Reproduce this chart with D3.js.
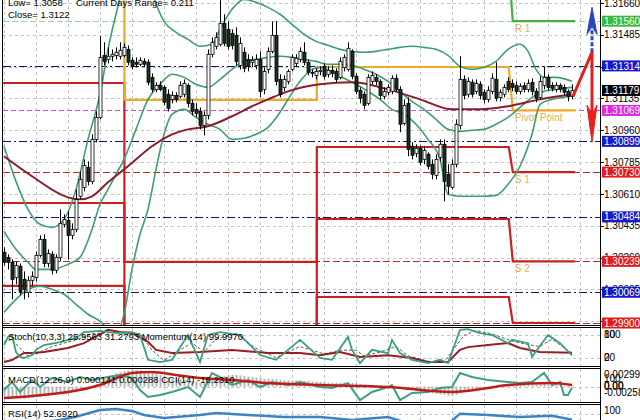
<!DOCTYPE html>
<html><head><meta charset="utf-8">
<script src="https://cdn.jsdelivr.net/npm/d3@7"></script>
<style>body{margin:0;background:#fff}svg{display:block}text{font-family:"Liberation Sans",Arial,sans-serif}</style>
</head><body><svg id="c" width="640" height="420"></svg>
<script>
// ---------- DATA ----------
// candles: [open, high, low, close], one per bar
const candles = [
[1.30289,1.30316,1.30217,1.30234],[1.30261,1.30278,1.30195,1.30234],[1.30234,1.30250,1.30030,1.30140],[1.30151,1.30239,1.30113,1.30217],
[1.30212,1.30228,1.30052,1.30074],[1.30140,1.30184,1.30030,1.30085],[1.30069,1.30157,1.30041,1.30135],[1.30135,1.30184,1.30107,1.30157],
[1.30151,1.30294,1.30129,1.30272],[1.30272,1.30382,1.30261,1.30360],[1.30360,1.30388,1.30206,1.30228],[1.30228,1.30305,1.30206,1.30283],
[1.30278,1.30294,1.30168,1.30190],[1.30190,1.30278,1.30173,1.30261],[1.30261,1.30525,1.30239,1.30448],[1.30443,1.30498,1.30426,1.30470],
[1.30465,1.30514,1.30250,1.30382],[1.30382,1.30448,1.30360,1.30415],[1.30415,1.30635,1.30399,1.30580],[1.30597,1.30734,1.30580,1.30690],
[1.30646,1.30800,1.30624,1.30767],[1.30756,1.30789,1.30657,1.30679],[1.30679,1.30938,1.30663,1.30910],[1.30910,1.31064,1.30894,1.31031],
[1.31031,1.31477,1.31020,1.31361],[1.31372,1.31444,1.31317,1.31339],[1.31350,1.31416,1.31328,1.31367],[1.31367,1.31405,1.31339,1.31378],
[1.31372,1.31416,1.31350,1.31389],[1.31367,1.31444,1.31350,1.31400],[1.31372,1.31438,1.31361,1.31416],[1.31405,1.31427,1.31317,1.31334],
[1.31345,1.31361,1.31295,1.31312],[1.31334,1.31361,1.31306,1.31323],[1.31323,1.31361,1.31312,1.31345],[1.31339,1.31356,1.31306,1.31323],
[1.31334,1.31350,1.31207,1.31224],[1.31251,1.31273,1.31169,1.31185],[1.31185,1.31224,1.31169,1.31207],[1.31207,1.31229,1.31174,1.31185],
[1.31196,1.31207,1.31097,1.31114],[1.31158,1.31185,1.31064,1.31081],[1.31130,1.31174,1.31108,1.31152],[1.31152,1.31169,1.31114,1.31130],
[1.31147,1.31229,1.31136,1.31207],[1.31158,1.31240,1.31141,1.31218],[1.31207,1.31218,1.31086,1.31108],[1.31108,1.31130,1.31042,1.31064],
[1.31075,1.31108,1.31031,1.31053],[1.31064,1.31086,1.30965,1.30987],[1.30987,1.31064,1.30932,1.31042],[1.31042,1.31405,1.31020,1.31378],
[1.31378,1.31471,1.31361,1.31444],[1.31422,1.31499,1.31405,1.31471],[1.31433,1.31697,1.31422,1.31548],[1.31548,1.31598,1.31422,1.31438],
[1.31515,1.31559,1.31405,1.31422],[1.31493,1.31515,1.31405,1.31427],[1.31482,1.31526,1.31317,1.31339],[1.31317,1.31471,1.31295,1.31438],
[1.31389,1.31416,1.31279,1.31301],[1.31350,1.31378,1.31284,1.31312],[1.31334,1.31367,1.31306,1.31345],[1.31317,1.31378,1.31295,1.31350],
[1.31350,1.31394,1.31141,1.31174],[1.31185,1.31306,1.31158,1.31284],[1.31295,1.31416,1.31273,1.31394],[1.31394,1.31559,1.31383,1.31482],
[1.31482,1.31559,1.31207,1.31229],[1.31240,1.31268,1.31141,1.31158],[1.31196,1.31262,1.31174,1.31240],[1.31229,1.31295,1.31213,1.31284],
[1.31295,1.31378,1.31284,1.31361],[1.31328,1.31378,1.31306,1.31356],[1.31350,1.31416,1.31334,1.31394],[1.31389,1.31444,1.31317,1.31334],
[1.31334,1.31350,1.31262,1.31279],[1.31279,1.31295,1.31251,1.31273],[1.31262,1.31301,1.31240,1.31284],[1.31284,1.31312,1.31262,1.31290],
[1.31312,1.31328,1.31240,1.31257],[1.31268,1.31312,1.31251,1.31290],[1.31290,1.31317,1.31251,1.31273],[1.31284,1.31301,1.31224,1.31240],
[1.31251,1.31361,1.31240,1.31339],[1.31306,1.31378,1.31284,1.31361],[1.31295,1.31444,1.31284,1.31411],[1.31394,1.31405,1.31240,1.31257],
[1.31257,1.31273,1.31158,1.31174],[1.31180,1.31196,1.31108,1.31136],[1.31158,1.31174,1.31075,1.31097],[1.31108,1.31268,1.31097,1.31251],
[1.31229,1.31284,1.31213,1.31262],[1.31251,1.31268,1.31207,1.31229],[1.31229,1.31240,1.31130,1.31152],[1.31147,1.31196,1.31130,1.31174],
[1.31169,1.31213,1.31152,1.31196],[1.31174,1.31262,1.31158,1.31246],[1.31246,1.31268,1.31174,1.31185],[1.31185,1.31202,1.30949,1.30993],
[1.30998,1.31130,1.30987,1.31097],[1.31108,1.31141,1.30817,1.30855],[1.30872,1.30894,1.30800,1.30822],[1.30833,1.30883,1.30811,1.30861],
[1.30861,1.30877,1.30767,1.30784],[1.30800,1.30872,1.30773,1.30850],[1.30828,1.30839,1.30745,1.30762],[1.30773,1.30800,1.30690,1.30718],
[1.30712,1.30828,1.30690,1.30800],[1.30811,1.30910,1.30789,1.30883],[1.30883,1.30910,1.30569,1.30679],[1.30718,1.30773,1.30608,1.30652],
[1.30646,1.30800,1.30635,1.30773],[1.30773,1.31020,1.30756,1.30993],[1.30987,1.31367,1.30965,1.31240],[1.31240,1.31262,1.31130,1.31152],
[1.31158,1.31251,1.31141,1.31229],[1.31224,1.31240,1.31141,1.31158],[1.31174,1.31240,1.31158,1.31218],[1.31213,1.31229,1.31130,1.31152],
[1.31169,1.31185,1.31108,1.31130],[1.31130,1.31202,1.31114,1.31180],[1.31174,1.31273,1.31158,1.31246],[1.31240,1.31334,1.31119,1.31136],
[1.31141,1.31185,1.31119,1.31169],[1.31158,1.31213,1.31141,1.31196],[1.31229,1.31251,1.31169,1.31185],[1.31218,1.31240,1.31174,1.31196],
[1.31207,1.31229,1.31158,1.31174],[1.31174,1.31218,1.31158,1.31202],[1.31207,1.31224,1.31169,1.31185],[1.31185,1.31240,1.31169,1.31218],
[1.31224,1.31246,1.31152,1.31174],[1.31174,1.31191,1.31114,1.31136],[1.31141,1.31257,1.31130,1.31229],[1.31207,1.31312,1.31185,1.31251],
[1.31251,1.31268,1.31180,1.31196],[1.31207,1.31224,1.31174,1.31191],[1.31185,1.31224,1.31169,1.31207],[1.31207,1.31218,1.31169,1.31185],
[1.31196,1.31213,1.31152,1.31169],[1.31174,1.31185,1.31119,1.31147],[1.31147,1.31213,1.31130,1.31179]
];
// Bollinger bands (read at sample bars)
const bbBarsU = [0,3,6,9,12,15,18,21,24,26,28,30,34,37,40,43,46,49,52,54,57,60,63,66,69,72,75,78,81,84,87,90,93,96,99,102,105,108,111,114,117,120,123,126,129,131,133,135,138,142];
const bbUpper = [1.30872,1.30679,1.30525,1.30443,1.30426,1.30470,1.30635,1.30910,1.31158,1.31405,1.31598,1.31763,1.31845,1.31708,1.31559,1.31499,1.31460,1.31422,1.31433,1.31515,1.31625,1.31680,1.31664,1.31636,1.31598,1.31543,1.31488,1.31449,1.31427,1.31405,1.31394,1.31389,1.31394,1.31405,1.31416,1.31422,1.31416,1.31405,1.31372,1.31312,1.31295,1.31306,1.31339,1.31405,1.31433,1.31394,1.31295,1.31251,1.31251,1.31229];
const bbBarsM = [0,3,6,8,12,16,19,22,24,26,28,30,33,36,39,42,45,48,51,54,57,60,63,66,69,72,75,78,81,84,87,90,93,96,99,102,105,108,111,114,117,120,123,126,129,132,135,138,142];
const bbMiddle = [1.30404,1.30305,1.30234,1.30195,1.30195,1.30223,1.30261,1.30415,1.30553,1.30635,1.30718,1.30800,1.30965,1.31130,1.31213,1.31268,1.31251,1.31213,1.31196,1.31240,1.31295,1.31339,1.31350,1.31361,1.31367,1.31361,1.31350,1.31339,1.31323,1.31323,1.31317,1.31295,1.31268,1.31229,1.31174,1.31119,1.31075,1.31020,1.30965,1.30954,1.30960,1.30965,1.30993,1.31031,1.31086,1.31141,1.31174,1.31185,1.31196];
const bbBarsL = [0,3,6,9,12,15,18,21,24,26,28,30,32,34,36,38,40,42,45,48,51,54,57,60,63,66,69,71,74,77,79,82,85,88,91,94,97,100,103,106,109,111,114,119,123,126,129,132,134,137,140,142];
const bbLower = [1.29959,1.30030,1.30085,1.30102,1.30085,1.30058,1.30003,1.29948,1.29909,1.29865,1.29843,1.29948,1.30195,1.30388,1.30525,1.30745,1.30938,1.31048,1.31075,1.31031,1.30993,1.30965,1.30910,1.30916,1.30938,1.30976,1.31059,1.31130,1.31229,1.31295,1.31306,1.31279,1.31246,1.31213,1.31174,1.31130,1.31075,1.31048,1.30993,1.30910,1.30800,1.30608,1.30597,1.30597,1.30602,1.30663,1.30762,1.30938,1.31103,1.31130,1.31141,1.31147];
// moving average (dark red)
const maBars = [0,7,16,19,22,26,31,37,41,46,51,57,62,66,71,79,87,96,104,112,119,126,134,142];
const maVals = [1.30817,1.30707,1.30591,1.30580,1.30597,1.30674,1.30762,1.30872,1.30927,1.30965,1.30982,1.31037,1.31092,1.31130,1.31174,1.31213,1.31224,1.31185,1.31130,1.31075,1.31075,1.31092,1.31130,1.31158];
// daily pivot levels (4 days)
const dayFrom = [-0.5,30.1,78.2,127.2];
const dayTo   = [30.1,78.2,126.2,142.75];
const pivotLv = [1.31800,1.31127,1.31308,1.31069];
const r1Lv    = [1.32000,1.31900,1.31850,1.31560];
const s1Lv    = [1.31220,1.30236,1.30868,1.30730];
const s2Lv    = [1.30560,1.29750,1.30472,1.30239];
const s3Lv    = [1.30104,1.29500,1.30043,1.29900];
// horizontal level lines and their axis labels
const levelPrices = [1.31560,1.31314,1.31069,1.30899,1.30730,1.30484,1.30239,1.30069,1.29900];
const levelKinds  = ["green","blue","magenta","blue","red","blue","red","blue","red"];
const bidPrice = 1.31179;
const priceTicks = [1.31660,1.31485,1.31310,1.31135,1.30960,1.30785,1.30610,1.30435,1.30260,1.30085,1.29910];
// projection arrows
const projBars = [142.25,147,147];
const projPrices = [1.31147,1.31389,1.30894];
const projUpTip = 1.31636;
// Stochastic / Momentum
const stochBars = [0,1,2,3,4,5,7,8,10,14,18,20,24,28,32,34,36,39,42,46,49,51,54,59,64,68,74,79,82,86,87,89,92,96,97,99,102,106,109,111,114,116,119,122,126,127,131,132,136,139,142];
const stochMain = [54,76,81,35,22,19,27,41,54,62,73,89,92,86,89,81,14,8,14,81,8,81,89,81,27,14,68,19,14,76,41,5,41,32,68,32,14,5,14,5,95,97,86,81,59,68,59,22,81,59,25.96];
const sigBars = [0,2,4,6,8,12,18,22,28,34,37,40,44,47,50,53,58,63,68,74,80,84,88,90,94,98,101,106,110,115,118,122,127,131,134,137,142];
const stochSig = [60,70,45,25,30,50,68,85,88,85,40,12,40,60,35,70,85,45,20,50,30,40,40,25,35,50,25,10,8,80,93,84,65,55,50,70,31.28];
const momBars = [0,2,5,7,10,16,20,26,29,32,36,38,42,49,57,66,74,79,84,89,96,102,106,111,114,116,121,126,129,134,142];
const momVals = [99.70,99.76,99.99,99.99,100.02,100.15,100.31,100.74,100.67,100.64,100.35,100.09,99.99,100.02,100.09,99.99,99.99,99.92,100.02,99.86,99.92,99.83,99.70,99.70,100.09,100.18,100.25,100.31,100.15,100.02,99.997];
// MACD / CCI
const macdMain = [
-0.0018,-0.0019,-0.0020,-0.0021,-0.0021,-0.0022,-0.0021,-0.0020,
-0.0019,-0.0018,-0.0017,-0.0016,-0.0015,-0.0013,-0.0011,-0.0009,
-0.0008,-0.0007,-0.0005,-0.0003,-0.0001,0,0.0002,0.0005,
0.0010,0.0014,0.0018,0.0021,0.0024,0.0026,0.0028,0.0029,
0.0030,0.0030,0.0029,0.0028,0.0027,0.0025,0.0023,0.0021,
0.0019,0.0017,0.0015,0.0014,0.0013,0.0012,0.0011,0.0010,
0.0009,0.0007,0.0006,0.0008,0.0011,0.0014,0.0017,0.0019,
0.0020,0.0021,0.0021,0.0020,0.0019,0.0018,0.0017,0.0016,
0.0015,0.0014,0.0014,0.0014,0.0013,0.0012,0.0011,0.0011,
0.0011,0.0011,0.0011,0.0010,0.0010,0.0009,0.0009,0.0008,
0.0008,0.0007,0.0007,0.0007,0.0007,0.0007,0.0007,0.0007,
0.0006,0.0005,0.0004,0.0003,0.0003,0.0002,0.0002,0.0001,
0.0001,0.0001,0,-0.0001,-0.0002,-0.0004,-0.0006,-0.0008,
-0.0009,-0.0010,-0.0011,-0.0012,-0.0013,-0.0014,-0.0015,-0.0016,
-0.0016,-0.0015,-0.0012,-0.0009,-0.0007,-0.0005,-0.0004,-0.0003,
-0.0002,-0.0001,0,0.0001,0.0002,0.0002,0.0003,0.0003,
0.0003,0.0004,0.0004,0.0004,0.0004,0.0004,0.0004,0.0005,
0.0004,0.0004,0.0003,0.0003,0.0002,0.0002,0.00014];
const macdSigBars = [0,7,12,16,24,32,37,43,49,57,66,79,96,112,121,126,137,142];
const macdSig = [-0.00205,-0.00169,-0.00133,-0.00097,0.00029,0.00245,0.00263,0.00209,0.00155,0.00119,0.00065,0.00029,-0.00007,-0.00097,-0.00025,0.00029,0.00065,0.000288];
const cciBars = [0,2,4,7,9,12,16,19,22,26,29,32,34,36,39,42,46,49,52,54,57,61,64,67,71,74,79,82,86,89,92,96,97,99,102,106,109,112,114,117,121,126,129,132,135,137,139,140,141,142];
const cciVals = [-45,53,-70,77,-9,102,53,114,77,114,139,102,-45,-131,-107,-70,-9,-131,163,114,16,77,-9,53,16,53,-9,-21,40,-168,-70,-9,16,-168,-82,-70,-21,-9,163,114,77,53,40,53,163,16,53,-107,-107,-16.23];
// RSI
const rsiBars = [0,8,14,18,24,28,32,35,40,49,53,61,70,79,87,96,100,106,111,114,121,129,137,142];
const rsiVals = [35,40,52,62,84,87,81,68,58,68,74,68,61,61,52,61,45,35,38,72,68,61,65,52.69];
// texts
const infoTexts = ["Low= 1.3058","Current Days Range= 0.211","Close= 1.3122"];
const stochTitle = "Stoch(10,3,3) 25.9563 31.2793  Momentum(14) 99.9970";
const macdTitle = "MACD(12,26,9) 0.000141 0.000288  CCI(14) -16.2310";
const rsiTitle = "RSI(14) 52.6920";
const levelNames = ["R 1","Pivot Point","S 1","S 2"];

// ---------- DRAW ----------
const svg = d3.select("#c");
const FONT = '"Liberation Sans",Arial,sans-serif';
const x = d3.scaleLinear().domain([-1,149]).range([0,600]);
const y = d3.scaleLinear().domain([1.29900,1.31660]).range([323,3]);
const ySt = d3.scaleLinear().domain([0,100]).range([365,328]);
const yMom = d3.scaleLinear().domain([99.6,100.8]).range([365,328]);
const yMacd = d3.scaleLinear().domain([-0.002588,0.002992]).range([401,370]);
const yCci = d3.scaleLinear().domain([-180,200]).range([401,370]);
const yRsi = d3.scaleLinear().domain([0,100]).range([436,405]);

const defs = svg.append("defs");
function clip(id,x0,y0,w,h){defs.append("clipPath").attr("id",id).append("rect").attr("x",x0).attr("y",y0).attr("width",w).attr("height",h);}
clip("cm",3,0,597,325); clip("cs",3,328,597,38); clip("cd",3,369,597,33); clip("cr",3,405,597,20);

const gridCol="#c4c4c4";
// vertical grid (every 8 bars)
const vg = d3.range(0,145,8);
[[0,325],[328,366],[369,402],[405,420]].forEach(([a,b])=>{
  svg.append("g").selectAll("line").data(vg).join("line")
    .attr("x1",d=>x(d)+0.5).attr("x2",d=>x(d)+0.5).attr("y1",a).attr("y2",b)
    .attr("stroke",gridCol).attr("stroke-dasharray","3,3");
});
// horizontal price grid
svg.append("g").selectAll("line").data(priceTicks).join("line")
  .attr("x1",3).attr("x2",600).attr("y1",d=>Math.round(y(d))+0.5).attr("y2",d=>Math.round(y(d))+0.5)
  .attr("stroke",gridCol).attr("stroke-dasharray","3,3");
// sub-panel level grids
[[ySt(80)],[ySt(20)],[yMacd(0)],[yRsi(70)]].forEach(([v])=>{
  svg.append("line").attr("x1",3).attr("x2",600).attr("y1",Math.round(v)+0.5).attr("y2",Math.round(v)+0.5)
    .attr("stroke",gridCol).attr("stroke-dasharray","3,3");
});

const gm = svg.append("g").attr("clip-path","url(#cm)");
// level lines
const lvStyle = {green:["#5cbc5c","6,3"],blue:["#101070","8,3,2,3"],magenta:["#d050d0","5,3"],red:["#c02828","7,3"]};
gm.selectAll("line.lv").data(levelPrices).join("line").attr("class","lv")
  .attr("x1",3).attr("x2",600).attr("y1",d=>Math.round(y(d))+0.5).attr("y2",d=>Math.round(y(d))+0.5)
  .attr("stroke",(d,i)=>lvStyle[levelKinds[i]][0]).attr("stroke-dasharray",(d,i)=>lvStyle[levelKinds[i]][1])
  .attr("stroke-width",1).attr("opacity",(d,i)=>levelKinds[i]==="green"?0.6:1);

// step lines
const stepLine = d3.line().x(d=>x(d[0])).y(d=>y(d[1]));
function steps(lv){const p=[];lv.forEach((v,d)=>{p.push([dayFrom[d],v]);p.push([dayTo[d],v]);});return p;}
[[s3Lv,"#cc2020"],[s2Lv,"#cc2020"],[s1Lv,"#cc2020"],[r1Lv,"#44b044"],[pivotLv,"#f0a828"]].forEach(([lv,c])=>{
  gm.append("path").attr("d",stepLine(steps(lv))).attr("fill","none").attr("stroke",c).attr("stroke-width",2.2);
});
// names
[[r1Lv[3],0],[pivotLv[3],1],[s1Lv[3],2],[s2Lv[3],3]].forEach(([v,k])=>{
  gm.append("text").attr("x",x(127.7)).attr("y",y(v)+11).text(levelNames[k])
    .attr("font-size","10px").attr("fill","#e4b050").attr("font-family",FONT);
});

// bollinger + MA
const mk = (bars,vals)=>bars.map((b,i)=>[b,vals[i]]);
const curve = d3.line().x(d=>x(d[0])).y(d=>y(d[1])).curve(d3.curveMonotoneX);
[[bbBarsU,bbUpper],[bbBarsM,bbMiddle],[bbBarsL,bbLower]].forEach(([b,v])=>{
  gm.append("path").attr("d",curve(mk(b,v))).attr("fill","none").attr("stroke","#3e9e72").attr("stroke-width",1.6);
});
gm.append("path").attr("d",curve(mk(maBars,maVals))).attr("fill","none").attr("stroke","#8a1c2c").attr("stroke-width",2);

// candles
const cg = gm.append("g");
cg.selectAll("line").data(candles).join("line")
  .attr("x1",(d,i)=>Math.round(x(i))+0.5).attr("x2",(d,i)=>Math.round(x(i))+0.5)
  .attr("y1",d=>y(d[1])).attr("y2",d=>y(d[2])).attr("stroke","#000").attr("stroke-width",1);
cg.selectAll("rect").data(candles).join("rect")
  .attr("x",(d,i)=>Math.round(x(i))-1).attr("width",3)
  .attr("y",d=>y(Math.max(d[0],d[3]))).attr("height",d=>Math.max(1,Math.abs(y(d[0])-y(d[3]))))
  .attr("fill",d=>d[3]>=d[0]?"#fff":"#1a3020").attr("stroke","#000").attr("stroke-width",0.8);

// projection arrows
const pl = d3.line().x(d=>x(d[0])).y(d=>y(d[1]));
const pp = mk(projBars,projPrices);
gm.append("path").attr("d",pl([pp[1],[projBars[1],projPrices[1]+(projUpTip-projPrices[1])*0.55]]))
  .attr("stroke","#3048c0").attr("stroke-width",3).attr("stroke-dasharray","4,2").attr("fill","none");
const tipU=[x(projBars[1]),y(projUpTip)];
gm.append("path").attr("d",`M${tipU[0]},${tipU[1]} l5,27 l-5,-8 l-5,8 Z`).attr("fill","#2a44c4").attr("stroke","#2a44c4");
gm.append("path").attr("d",pl([pp[0],pp[1],[projBars[2],projPrices[2]+0.0015]])).attr("stroke","#e02020").attr("stroke-width",3).attr("fill","none").attr("stroke-linejoin","round");
const tipD=[x(projBars[2]),y(projPrices[2])];
gm.append("path").attr("d",`M${tipD[0]},${tipD[1]} l5,-37 l-5,9 l-5,-9 Z`).attr("fill","#e82020").attr("stroke","#e82020");

// info texts
svg.append("text").attr("x",8).attr("y",6).text(infoTexts[0]).attr("font-size","9.5px");
svg.append("text").attr("x",76).attr("y",6).text(infoTexts[1]).attr("font-size","9.5px");
svg.append("text").attr("x",8).attr("y",18).text(infoTexts[2]).attr("font-size","9.5px");

// ---- stoch panel ----
const gs = svg.append("g").attr("clip-path","url(#cs)");
const lS = d3.line().x(d=>x(d[0])).y(d=>ySt(d[1]));
const lM = d3.line().x(d=>x(d[0])).y(d=>yMom(d[1]));
gs.append("path").attr("d",lM(mk(momBars,momVals))).attr("fill","none").attr("stroke","#9c1c24").attr("stroke-width",2);
gs.append("path").attr("d",lS(mk(sigBars,stochSig))).attr("fill","none").attr("stroke","#333").attr("stroke-width",0.8).attr("stroke-dasharray","3,2");
gs.append("path").attr("d",lS(mk(stochBars,stochMain))).attr("fill","none").attr("stroke","#3ca080").attr("stroke-width",1.8);
svg.append("text").attr("x",8).attr("y",340).text(stochTitle).attr("font-size","9.5px");

// ---- macd panel ----
const gd = svg.append("g").attr("clip-path","url(#cd)");
gd.selectAll("line").data(macdMain).join("line")
  .attr("x1",(d,i)=>Math.round(x(i))+0.5).attr("x2",(d,i)=>Math.round(x(i))+0.5)
  .attr("y1",yMacd(0)).attr("y2",d=>yMacd(d)).attr("stroke","#b4b4b4").attr("stroke-width",2);
const lMs = d3.line().x(d=>x(d[0])).y(d=>yMacd(d[1])).curve(d3.curveMonotoneX);
const lC = d3.line().x(d=>x(d[0])).y(d=>yCci(d[1]));
gd.append("path").attr("d",lC(mk(cciBars,cciVals))).attr("fill","none").attr("stroke","#3ca080").attr("stroke-width",2);
gd.append("path").attr("d",lMs(mk(macdSigBars,macdSig))).attr("fill","none").attr("stroke","#c01c1c").attr("stroke-width",2.5);
svg.append("text").attr("x",8).attr("y",383).text(macdTitle).attr("font-size","9.5px");

// ---- rsi panel ----
const gr = svg.append("g").attr("clip-path","url(#cr)");
const lR = d3.line().x(d=>x(d[0])).y(d=>yRsi(d[1]));
gr.append("path").attr("d",lR(mk(rsiBars,rsiVals))).attr("fill","none").attr("stroke","#3c84c4").attr("stroke-width",2.5);
svg.append("text").attr("x",8).attr("y",417).text(rsiTitle).attr("font-size","9.5px");

// frames
svg.append("line").attr("x1",2.5).attr("x2",2.5).attr("y1",0).attr("y2",420).attr("stroke","#000");
svg.append("line").attr("x1",600.5).attr("x2",600.5).attr("y1",0).attr("y2",420).attr("stroke","#000");
[325.5,327.5,366.5,368.5,402.5,404.5].forEach(v=>svg.append("line").attr("x1",2).attr("x2",601).attr("y1",v).attr("y2",v).attr("stroke","#000"));

// right axis ticks + labels (labels fully covered by a level box are not drawn)
const allLabels = levelPrices.map((p,i)=>[p,{green:"#3cb83c",blue:"#1818c8",magenta:"#e028e0",red:"#e01c1c"}[levelKinds[i]]]).concat([[bidPrice,"#000"]]);
const visibleTicks = priceTicks.filter(t=>!allLabels.some(l=>Math.abs(y(l[0])-y(t))<2.5));
const ax = svg.append("g").attr("font-size","10px").attr("font-family",FONT);
ax.selectAll("line").data(priceTicks).join("line").attr("x1",600).attr("x2",604)
  .attr("y1",d=>Math.round(y(d))+0.5).attr("y2",d=>Math.round(y(d))+0.5).attr("stroke","#000");
ax.selectAll("text").data(visibleTicks).join("text").attr("x",604).attr("y",d=>y(d)+3.6).text(d=>d.toFixed(5));
const lab = svg.append("g").attr("font-size","10px").attr("font-family",FONT);
lab.selectAll("rect").data(allLabels).join("rect").attr("x",602).attr("width",40).attr("y",d=>y(d[0])-5.5).attr("height",11).attr("fill",d=>d[1]);
lab.selectAll("text").data(allLabels).join("text").attr("x",604).attr("y",d=>y(d[0])+3.6).attr("fill","#fff").text(d=>d[0].toFixed(5));

// sub-panel axis labels
const sl = svg.append("g").attr("font-size","10px").attr("font-family",FONT);
[["100",338],["80",338],["20",361],["0",361],["0.002992",378],["100",382],["0.00",389],["0.00",390],["-0.002588",396],["100",414]]
  .forEach(([t,yy])=>sl.append("text").attr("x",604).attr("y",yy).text(t));
</script></body></html>
